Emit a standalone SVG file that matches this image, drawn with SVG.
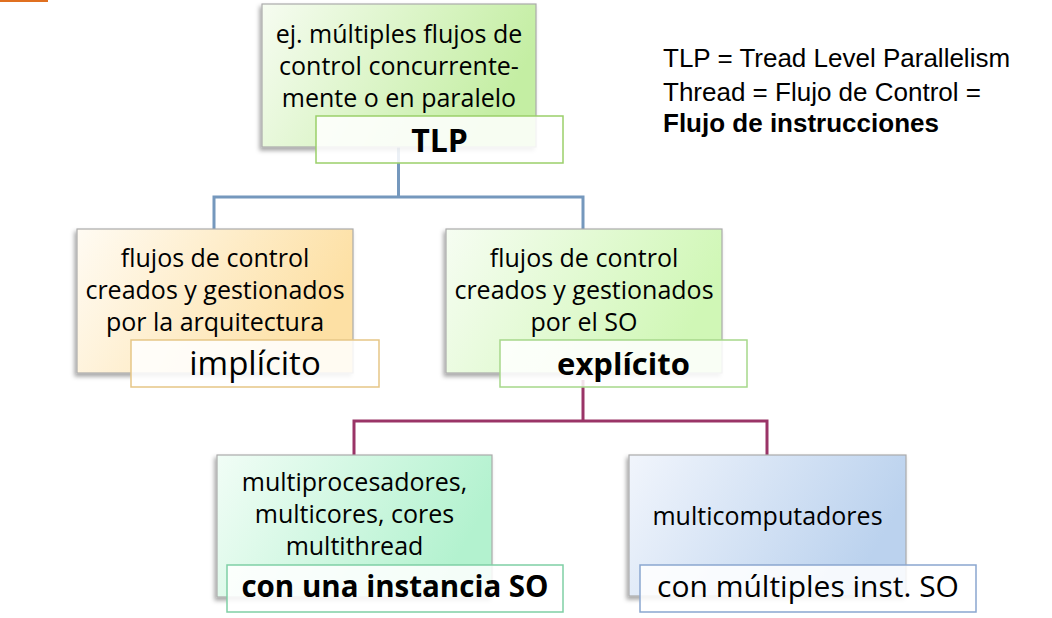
<svg xmlns="http://www.w3.org/2000/svg" width="1052" height="618" viewBox="0 0 1052 618">
<style>
text{font-family:"Open Sans","Noto Sans",sans-serif;fill:#000}
.body{font-size:25px;text-anchor:middle}
.lbl{text-anchor:middle}
.b{font-weight:bold}
.box{stroke:#ababab;stroke-width:1.2;filter:url(#sh)}
.tag{fill:#fff;fill-opacity:0.86;stroke-width:1.5}
.side{font-family:"Liberation Sans",Arial,sans-serif;font-size:26px}
.c1{fill:none;stroke:#7598bd;stroke-width:3}
.c2{fill:none;stroke:#9a3467;stroke-width:3}
</style>
<defs>
<filter id="sh" x="-10%" y="-10%" width="120%" height="130%">
<feDropShadow dx="-2" dy="3" stdDeviation="2" flood-color="#000" flood-opacity="0.35"/>
</filter>
<linearGradient id="gG" x1="0" y1="0" x2="1" y2="0.3"><stop offset="0" stop-color="#f6fcf1"/><stop offset="1" stop-color="#c4eea3"/></linearGradient>
<linearGradient id="gO" x1="0" y1="0" x2="1" y2="0.3"><stop offset="0" stop-color="#fffbf3"/><stop offset="1" stop-color="#fde0a4"/></linearGradient>
<linearGradient id="gE" x1="0" y1="0" x2="1" y2="0.3"><stop offset="0" stop-color="#f6fdf2"/><stop offset="1" stop-color="#d0f7b6"/></linearGradient>
<linearGradient id="gM" x1="0" y1="0" x2="1" y2="0.3"><stop offset="0" stop-color="#f1fdf6"/><stop offset="1" stop-color="#b3f2cf"/></linearGradient>
<linearGradient id="gB" x1="0" y1="0" x2="1" y2="0.3"><stop offset="0" stop-color="#f1f5fc"/><stop offset="1" stop-color="#bbd2ee"/></linearGradient>
</defs>
<rect x="0" y="0" width="48" height="2" fill="#e07020"/>
<g id="connectors">
<path class="c1" d="M398.5 140 V197 M214 229 V197 H583 V229"/>
<path class="c2" d="M583 380 V421 M354 455 V421 H767 V455"/>
</g>
<g id="tlp">
<rect class="box" x="262" y="4" width="274" height="143" fill="url(#gG)"/>
<text class="body" x="399" y="43">ej. múltiples flujos de</text>
<text class="body" x="399" y="75">control concurrente-</text>
<text class="body" x="399" y="107">mente o en paralelo</text>
<rect class="tag" x="316" y="116" width="247" height="47" stroke="#9bcf6a"/>
<text class="lbl b" x="439.5" y="152" font-size="32">TLP</text>
</g>
<g id="implicito">
<rect class="box" x="77" y="229" width="276" height="144" fill="url(#gO)"/>
<text class="body" x="215" y="267">flujos de control</text>
<text class="body" x="215" y="299">creados y gestionados</text>
<text class="body" x="215" y="331">por la arquitectura</text>
<rect class="tag" x="131" y="340" width="248" height="47" stroke="#e6c686"/>
<text class="lbl" x="255" y="375" font-size="33">implícito</text>
</g>
<g id="explicito">
<rect class="box" x="446" y="229" width="276" height="144" fill="url(#gE)"/>
<text class="body" x="584" y="267">flujos de control</text>
<text class="body" x="584" y="299">creados y gestionados</text>
<text class="body" x="584" y="331">por el SO</text>
<rect class="tag" x="500" y="340" width="247" height="47" stroke="#a6d88a"/>
<text class="lbl b" x="623.5" y="375" font-size="31">explícito</text>
</g>
<g id="una-instancia">
<rect class="box" x="217" y="455" width="275" height="142" fill="url(#gM)"/>
<text class="body" x="354.5" y="491">multiprocesadores,</text>
<text class="body" x="354.5" y="523">multicores, cores</text>
<text class="body" x="354.5" y="555">multithread</text>
<rect class="tag" x="227" y="565" width="336" height="47" stroke="#7fcfa5"/>
<text class="lbl b" x="395" y="597" font-size="29.5">con una instancia SO</text>
</g>
<g id="multiples-inst">
<rect class="box" x="629" y="455" width="277" height="141" fill="url(#gB)"/>
<text class="body" x="767.5" y="525">multicomputadores</text>
<rect class="tag" x="640" y="565" width="336" height="47" stroke="#8aa6cf"/>
<text class="lbl" x="808" y="597" font-size="30">con múltiples inst. SO</text>
</g>
<g id="leyenda">
<text class="side" x="663" y="67">TLP = Tread Level Parallelism</text>
<text class="side" x="663" y="101">Thread = Flujo de Control =</text>
<text class="side b" x="663" y="132">Flujo de instrucciones</text>
</g>
</svg>
